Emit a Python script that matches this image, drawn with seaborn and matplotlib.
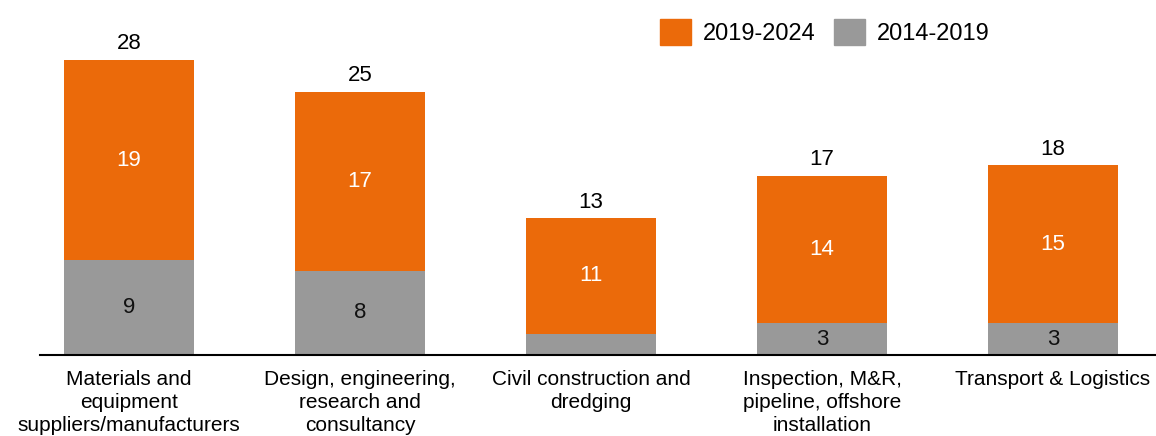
import matplotlib
matplotlib.use("Agg")
import matplotlib.pyplot as plt
import matplotlib.patches as mpatches
import seaborn as sns
import pandas as pd

# data
categories = [
    "Materials and\nequipment\nsuppliers/manufacturers",
    "Design, engineering,\nresearch and\nconsultancy",
    "Civil construction and\ndredging",
    "Inspection, M&R,\npipeline, offshore\ninstallation",
    "Transport & Logistics",
]
early = [9, 8, 2, 3, 3]        # 2014-2019
recent = [19, 17, 11, 14, 15]  # 2019-2024
early_labels = ["9", "8", "", "3", "3"]

ORANGE = "#EB6A0A"
GREY = "#999999"

sns.set_theme(style="white")
plt.rcParams["font.family"] = ["Liberation Sans", "DejaVu Sans"]
plt.rcParams["text.color"] = "black"

df = pd.DataFrame({"category": categories, "early": early, "recent": recent})
df["total"] = df["early"] + df["recent"]

fig = plt.figure(figsize=(11.56, 4.36), dpi=100)
ax = fig.add_axes([40 / 1156, 1 - 355 / 436, 1 - 40 / 1156, 355 / 436])

sns.barplot(data=df, x="category", y="total", color=ORANGE, width=0.56,
            saturation=1, linewidth=0, ax=ax)
sns.barplot(data=df, x="category", y="early", color=GREY, width=0.56,
            saturation=1, linewidth=0, ax=ax)

ax.set_xlim(-0.385, 4.446)
ax.set_ylim(0, 33.7)

for i, row in df.iterrows():
    if early_labels[i]:
        ax.text(i, row["early"] / 2, early_labels[i], ha="center", va="center",
                fontsize=16, color="#111111")
    ax.text(i, row["early"] + row["recent"] / 2, str(row["recent"]),
            ha="center", va="center", fontsize=16, color="white")
    ax.annotate(str(row["total"]), (i, row["total"]), xytext=(0, 4),
                textcoords="offset points", ha="center", va="bottom",
                fontsize=16, color="black")

ax.set_xlabel("")
ax.set_ylabel("")
ax.set_yticks([])
ax.tick_params(axis="x", length=0, pad=11, labelsize=15, colors="black")
for lbl in ax.get_xticklabels():
    lbl.set_linespacing(1.25)
for s in ["top", "right", "left"]:
    ax.spines[s].set_visible(False)
ax.spines["bottom"].set_color("black")
ax.spines["bottom"].set_linewidth(1.5)

handles = [mpatches.Patch(color=ORANGE, label="2019-2024"),
           mpatches.Patch(color=GREY, label="2014-2019")]
fig.legend(handles=handles, loc="upper left", bbox_to_anchor=(639 / 1156, 1.005),
           ncol=2, frameon=False, fontsize=17, handlelength=1.3,
           handleheight=1.3, handletextpad=0.5, columnspacing=0.8,
           labelcolor="black")

fig.savefig("out.png", dpi=100)
